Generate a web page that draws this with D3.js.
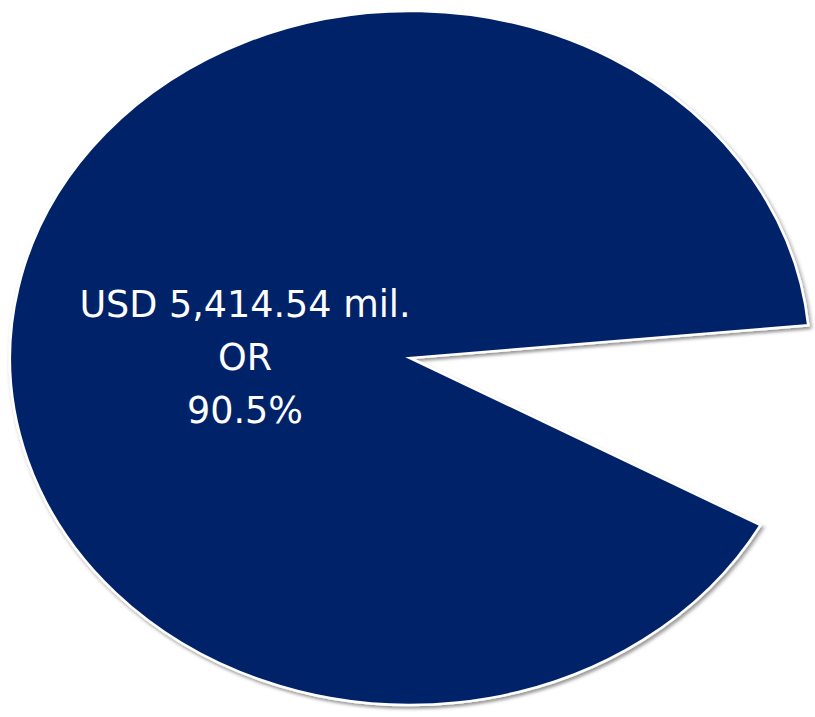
<!DOCTYPE html>
<html>
<head>
<meta charset="utf-8">
<script src="https://cdn.jsdelivr.net/npm/d3@7"></script>
<style>
  html, body { margin: 0; padding: 0; background: #ffffff; }
  svg { display: block; }
</style>
</head>
<body>
<script>
// Share of total (percent) for each segment; only the first is filled
const segments = ["Main", "Other"];
const shares = [90.5, 9.5];
const amountUSDmil = [5414.54];
const labelLines = ["USD 5,414.54 mil.", "OR", "90.5%"];

const W = 815, H = 717;
const cx = 410, cy = 358;
const rx = 400, ry = 347;
const fill = "#062468";

const svg = d3.select("body").append("svg")
  .attr("width", W).attr("height", H);

const defs = svg.append("defs");
const shadow = defs.append("filter").attr("id", "shade")
  .attr("x", "-10%").attr("y", "-10%").attr("width", "120%").attr("height", "120%");
shadow.append("feDropShadow")
  .attr("dx", 2).attr("dy", 3).attr("stdDeviation", 2)
  .attr("flood-color", "#000").attr("flood-opacity", 0.4);

// Pie laid out so the small segment opens toward the right
const start = 118.8 * Math.PI / 180;
const pie = d3.pie().sort(null).value(d => d)
  .startAngle(start).endAngle(start + 2 * Math.PI);
const arcs = pie(shares);

const arc = d3.arc().innerRadius(0).outerRadius(rx);

const g = svg.append("g")
  .attr("transform", `translate(${cx},${cy}) scale(1,${ry / rx})`);

g.selectAll("path.slice")
  .data(arcs.slice(0, 1))
  .join("path")
  .attr("class", "slice")
  .attr("d", arc)
  .attr("fill", fill)
  .attr("stroke", "#ffffff")
  .attr("stroke-width", 2.5)
  .attr("stroke-linejoin", "miter")
  .attr("vector-effect", "non-scaling-stroke")
  .attr("filter", "url(#shade)");

// Value label
const fmt = d3.format(",.2f");
const lines = [`USD ${fmt(amountUSDmil[0])} mil.`, labelLines[1], `${shares[0]}%`];
const text = svg.append("text")
  .attr("text-anchor", "middle")
  .attr("fill", "#ffffff")
  .style("font-family", "'Century Gothic', 'DejaVu Sans', sans-serif")
  .style("font-size", "36.5px");
lines.forEach((s, i) => {
  text.append("tspan")
    .attr("x", cx - 165)
    .attr("y", 317 + i * 53)
    .text(s);
});
</script>
</body>
</html>
